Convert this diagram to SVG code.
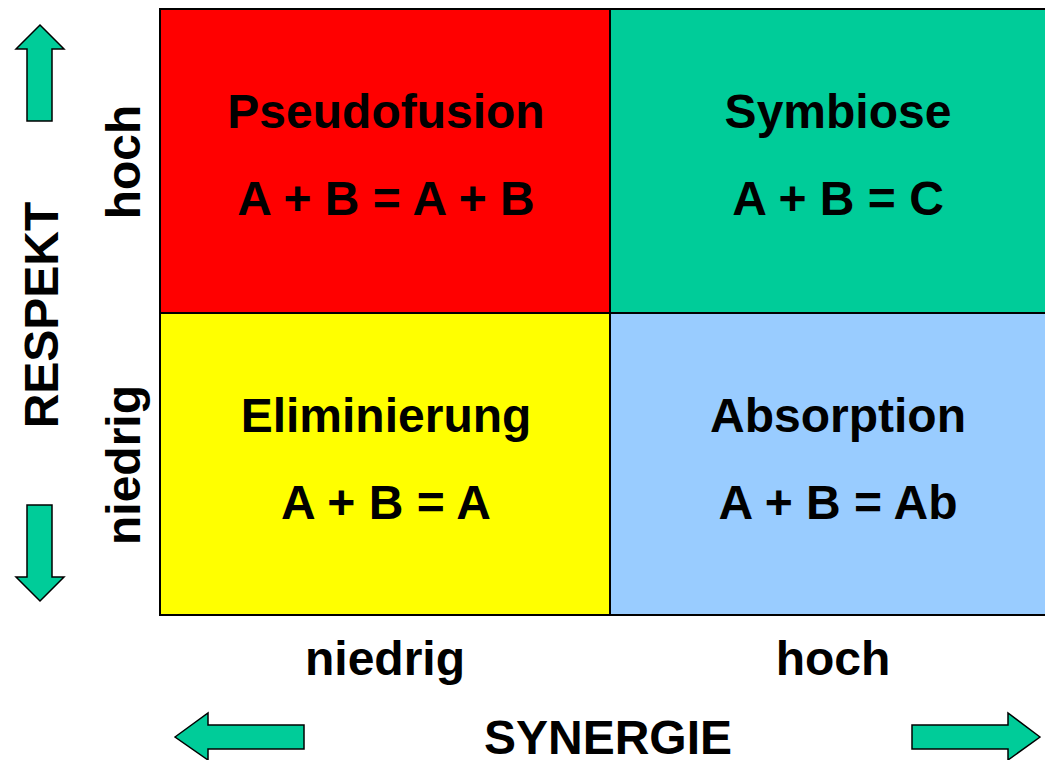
<svg xmlns="http://www.w3.org/2000/svg" width="1045" height="760" viewBox="0 0 1045 760">
<style>
.t{font-family:"Liberation Sans",Arial,sans-serif;font-weight:bold;font-size:48px;fill:#000;text-anchor:middle}
.cell{stroke:#000;stroke-width:2}
.arr{fill:#00CC99;stroke:#000;stroke-width:1.5;stroke-linejoin:miter}
</style>
<rect width="1045" height="760" fill="#fff"/>
<g id="pseudofusion">
<rect class="cell" x="160" y="9" width="450" height="304" fill="#FF0000"/>
<text class="t" x="386" y="128">Pseudofusion</text>
<text class="t" x="386" y="215">A + B = A + B</text>
</g>
<g id="symbiose">
<rect class="cell" x="610" y="9" width="450" height="304" fill="#00CC99"/>
<text class="t" x="838" y="128">Symbiose</text>
<text class="t" x="838" y="215">A + B = C</text>
</g>
<g id="eliminierung">
<rect class="cell" x="160" y="313" width="450" height="302" fill="#FFFF00"/>
<text class="t" x="386" y="432">Eliminierung</text>
<text class="t" x="386" y="519">A + B = A</text>
</g>
<g id="absorption">
<rect class="cell" x="610" y="313" width="450" height="302" fill="#99CCFF"/>
<text class="t" x="838" y="432">Absorption</text>
<text class="t" x="838" y="519">A + B = Ab</text>
</g>
<g id="axes">
<text class="t" x="385" y="675">niedrig</text>
<text class="t" x="833" y="675">hoch</text>
<text class="t" x="608" y="754">SYNERGIE</text>
<text class="t" transform="translate(58,315) rotate(-90)">RESPEKT</text>
<text class="t" transform="translate(140,162) rotate(-90)">hoch</text>
<text class="t" transform="translate(140,465) rotate(-90)">niedrig</text>
</g>
<g id="connectors">
<polygon class="arr" points="40,25 64,49 52,49 52,121 27,121 27,49 16,49"/>
<polygon class="arr" points="40,601 64,577 52,577 52,505 27,505 27,577 16,577"/>
<polygon class="arr" points="175,737 208,713 208,725 304,725 304,749 208,749 208,760"/>
<polygon class="arr" points="1040,737 1008,713 1008,725 912,725 912,749 1008,749 1008,760"/>
</g>
</svg>
